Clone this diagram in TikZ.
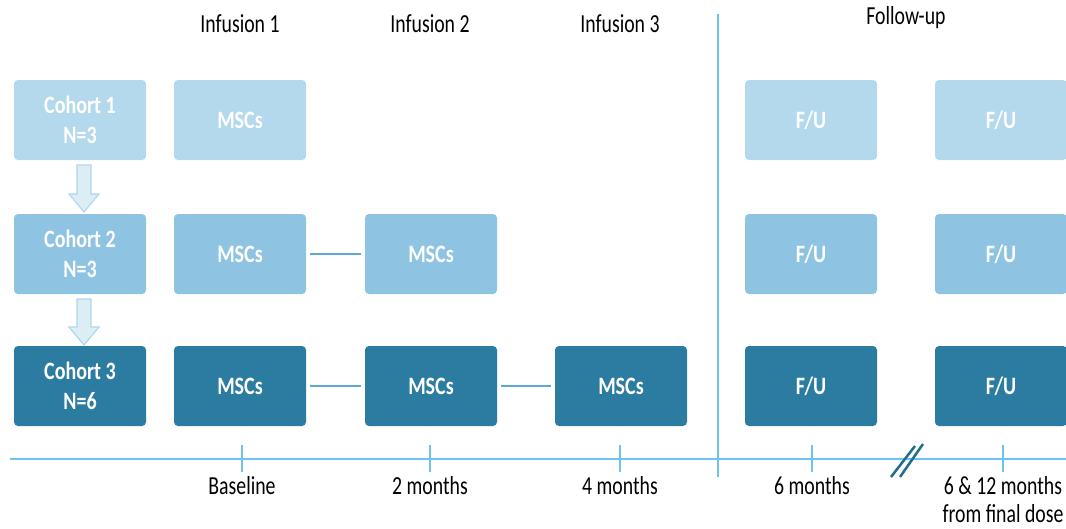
\documentclass[tikz,border=0pt]{standalone}
\usepackage{fontspec}
\setmainfont{Carlito}
\newfontfamily\boxfont[FakeStretch=0.8]{Carlito}	%tall, narrow lettering
\newfontfamily\lblfont[FakeStretch=0.76]{Carlito}

\definecolor{rowa}{HTML}{B4D8EC}	%cohort 1
\definecolor{rowb}{HTML}{8EC4E2}	%cohort 2
\definecolor{rowc}{HTML}{2C7BA1}	%cohort 3
\definecolor{axisblue}{HTML}{6CC4EC}
\definecolor{linkblue}{HTML}{5AA9D1}
\definecolor{breakteal}{HTML}{1F6F8B}

\tikzset{
	box/.style={rounded corners=4pt, minimum width=132pt, minimum height=80pt, inner sep=0pt,
		text=white, align=center, font=\boxfont\fontsize{25}{30}\selectfont\bfseries},
	lbl/.style={font=\lblfont\fontsize{26}{28}\selectfont, align=center, inner sep=0pt},
	axis/.style={draw=axisblue, line width=2.5pt},
	link/.style={draw=linkblue, line width=2.5pt, shorten <=4pt, shorten >=4pt},
	downarr/.style={draw=rowb!70, fill=rowa!45, line width=1.2pt, line join=miter},
}

\begin{document}
\begin{tikzpicture}[x=1pt,y=-1pt]
	\useasboundingbox (0,0) rectangle (1066,528);
	\def\ra{120}	%row of cohort 1
	\def\rb{254}	%row of cohort 2
	\def\rc{386}	%row of cohort 3
	\def\ax{459}	%timeline

	%headings
	\node[lbl] (inf1) at (240,24) {Infusion 1};
	\node[lbl] (inf2) at (430,24) {Infusion 2};
	\node[lbl] (inf3) at (620,24) {Infusion 3};
	\node[lbl] (fu) at (906,18) {Follow-up};

	%cohorts
	\node[box, fill=rowa] (coh1) at (80,\ra) {Cohort 1\\N=3};
	\node[box, fill=rowb] (coh2) at (80,\rb) {Cohort 2\\N=3};
	\node[box, fill=rowc] (coh3) at (80,\rc) {Cohort 3\\N=6};

	%hollow arrows between cohorts
	\draw[downarr] (77,165) -- (91,165) -- (91,194) -- (99,194) -- (84,212) -- (69,194) -- (77,194) -- cycle;
	\draw[downarr] (77,299) -- (91,299) -- (91,327) -- (99,327) -- (84,345) -- (69,327) -- (77,327) -- cycle;

	%infusions
	\node[box, fill=rowa] (msc11) at (240,\ra) {MSCs};
	\node[box, fill=rowb] (msc21) at (240,\rb) {MSCs};
	\node[box, fill=rowb] (msc22) at (431,\rb) {MSCs};
	\node[box, fill=rowc] (msc31) at (240,\rc) {MSCs};
	\node[box, fill=rowc] (msc32) at (431,\rc) {MSCs};
	\node[box, fill=rowc] (msc33) at (621,\rc) {MSCs};
	\draw[link] (msc21) -- (msc22);
	\draw[link] (msc31) -- (msc32);
	\draw[link] (msc32) -- (msc33);

	%follow-up
	\foreach \x/\n in {811/a,1001/b}{
		\node[box, fill=rowa] (fu1\n) at (\x,\ra) {F/U};
		\node[box, fill=rowb] (fu2\n) at (\x,\rb) {F/U};
		\node[box, fill=rowc] (fu3\n) at (\x,\rc) {F/U};
	}

	%timeline
	\draw[axis] (10,\ax) -- (1066,\ax);
	\draw[axis] (718,14) -- (718,477);		%divider infusions | follow-up
	\foreach \x/\t/\n in {242/Baseline/base, 430/2 months/two, 620/4 months/four, 812/6 months/six, 1003/6 \& 12 months\\from final dose/last}{
		\draw[axis] (\x,445) -- (\x,472);
		\node[lbl, anchor=north] (t\n) at (\x,476) {\t};
	}
	\draw[draw=breakteal, line width=2.5pt] (891,477) -- (915,446) (900,477) -- (923,444);	%break in the axis
\end{tikzpicture}
\end{document}
